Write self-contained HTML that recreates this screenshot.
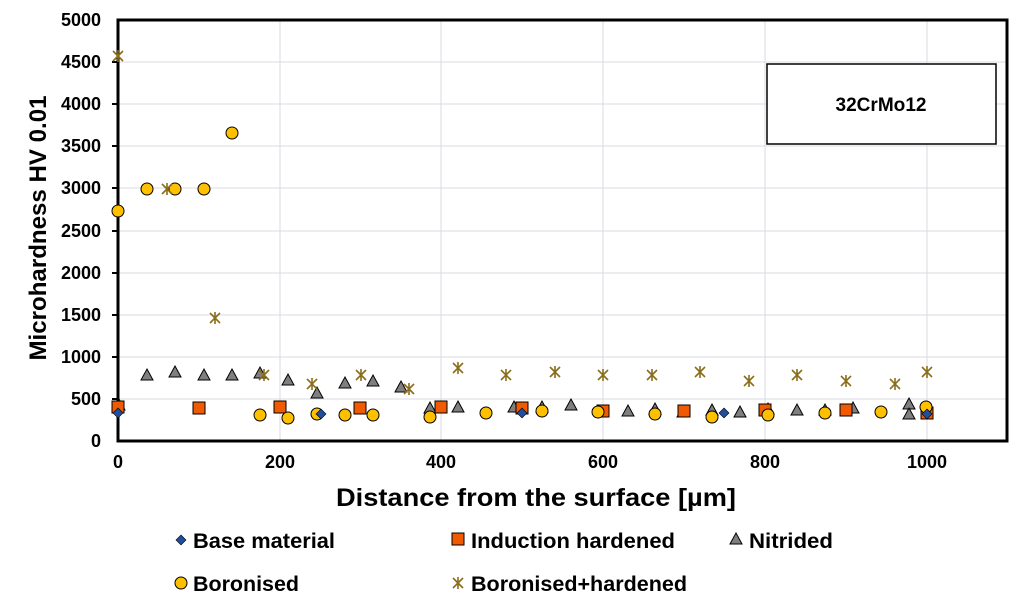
<!DOCTYPE html>
<html><head><meta charset="utf-8"><style>
body{margin:0;background:#fff}
svg{display:block;font-family:"Liberation Sans",sans-serif;font-weight:bold}
</style></head><body>
<svg width="1024" height="614" viewBox="0 0 1024 614" xmlns="http://www.w3.org/2000/svg">
<defs>
<path id="tri" d="M0,-6 L6,5 L-6,5 Z" fill="#7f7f7f" stroke="#000" stroke-width="1"/>
<circle id="cir" r="6" fill="#ffc000" stroke="#000" stroke-width="1"/>
<rect id="sq" x="-6" y="-6" width="12" height="12" fill="#f05a00" stroke="#000" stroke-width="1"/>
<path id="dia" d="M0,-5 L5,0 L0,5 L-5,0 Z" fill="#1f4e9e" stroke="#000" stroke-width="0.6"/>
<path id="ast" d="M-5,-5 L5,5 M-5,5 L5,-5 M0,-6 L0,6" stroke="#8a6d1a" stroke-width="1.6" fill="none"/>
</defs>
<rect x="0" y="0" width="1024" height="614" fill="#fff"/>
<g stroke="#d9d9e3" stroke-width="1">
<line x1="118" y1="20" x2="1007" y2="20"/>
<line x1="118" y1="62" x2="1007" y2="62"/>
<line x1="118" y1="104" x2="1007" y2="104"/>
<line x1="118" y1="146" x2="1007" y2="146"/>
<line x1="118" y1="188" x2="1007" y2="188"/>
<line x1="118" y1="231" x2="1007" y2="231"/>
<line x1="118" y1="273" x2="1007" y2="273"/>
<line x1="118" y1="315" x2="1007" y2="315"/>
<line x1="118" y1="357" x2="1007" y2="357"/>
<line x1="118" y1="399" x2="1007" y2="399"/>
<line x1="280" y1="20" x2="280" y2="441"/>
<line x1="441" y1="20" x2="441" y2="441"/>
<line x1="603" y1="20" x2="603" y2="441"/>
<line x1="765" y1="20" x2="765" y2="441"/>
<line x1="927" y1="20" x2="927" y2="441"/>
</g>
<rect x="118" y="20" width="889" height="421" fill="none" stroke="#000" stroke-width="3"/>
<g stroke="#000" stroke-width="2">
<line x1="112" y1="62" x2="118" y2="62"/><line x1="112" y1="104" x2="118" y2="104"/><line x1="112" y1="146" x2="118" y2="146"/><line x1="112" y1="188" x2="118" y2="188"/><line x1="112" y1="231" x2="118" y2="231"/><line x1="112" y1="273" x2="118" y2="273"/><line x1="112" y1="315" x2="118" y2="315"/><line x1="112" y1="357" x2="118" y2="357"/><line x1="112" y1="399" x2="118" y2="399"/>
</g>
<g font-size="18" text-anchor="end">
<text x="101" y="26">5000</text><text x="101" y="68">4500</text><text x="101" y="110">4000</text><text x="101" y="152">3500</text><text x="101" y="194">3000</text><text x="101" y="237">2500</text><text x="101" y="279">2000</text><text x="101" y="321">1500</text><text x="101" y="363">1000</text><text x="101" y="405">500</text><text x="101" y="447">0</text>
</g>
<g font-size="18" text-anchor="middle">
<text x="118" y="468">0</text><text x="280" y="468">200</text><text x="441" y="468">400</text><text x="603" y="468">600</text><text x="765" y="468">800</text><text x="927" y="468">1000</text>
</g>
<text x="536" y="506" font-size="25" text-anchor="middle" textLength="400" lengthAdjust="spacingAndGlyphs">Distance from the surface [µm]</text>
<text transform="translate(46,228) rotate(-90)" font-size="24" text-anchor="middle" textLength="265" lengthAdjust="spacingAndGlyphs">Microhardness HV 0.01</text>
<rect x="767" y="64" width="229" height="80" fill="#fff" stroke="#000" stroke-width="1.5"/>
<text x="881" y="111" font-size="19" text-anchor="middle" textLength="91" lengthAdjust="spacingAndGlyphs">32CrMo12</text>
<g>
<use href="#tri" x="119" y="405"/><use href="#tri" x="147" y="375"/><use href="#tri" x="175" y="372"/><use href="#tri" x="204" y="375"/><use href="#tri" x="232" y="375"/><use href="#tri" x="260" y="373"/><use href="#tri" x="288" y="380"/><use href="#tri" x="317" y="393"/><use href="#tri" x="345" y="383"/><use href="#tri" x="373" y="381"/><use href="#tri" x="401" y="387"/><use href="#tri" x="430" y="408"/><use href="#tri" x="458" y="407"/><use href="#tri" x="514" y="407"/><use href="#tri" x="542" y="407"/><use href="#tri" x="571" y="405"/><use href="#tri" x="628" y="411"/><use href="#tri" x="655" y="409"/><use href="#tri" x="683" y="412"/><use href="#tri" x="712" y="410"/><use href="#tri" x="740" y="412"/><use href="#tri" x="768" y="409"/><use href="#tri" x="797" y="410"/><use href="#tri" x="853" y="408"/><use href="#tri" x="909" y="404"/><use href="#tri" x="909" y="414"/><use href="#tri" x="825" y="410"/>
</g>
<g>
<use href="#sq" x="118" y="407"/><use href="#sq" x="199" y="408"/><use href="#sq" x="280" y="407"/><use href="#sq" x="360" y="408"/><use href="#sq" x="441" y="407"/><use href="#sq" x="522" y="408"/><use href="#sq" x="603" y="411"/><use href="#sq" x="684" y="411"/><use href="#sq" x="765" y="410"/><use href="#sq" x="846" y="410"/><use href="#sq" x="927" y="413"/>
</g>
<g>
<use href="#cir" x="118" y="211"/><use href="#cir" x="147" y="189"/><use href="#cir" x="175" y="189"/><use href="#cir" x="204" y="189"/><use href="#cir" x="232" y="133"/>
<use href="#cir" x="260" y="415"/><use href="#cir" x="288" y="418"/><use href="#cir" x="317" y="414"/><use href="#cir" x="345" y="415"/><use href="#cir" x="373" y="415"/><use href="#cir" x="430" y="417"/><use href="#cir" x="486" y="413"/><use href="#cir" x="542" y="411"/><use href="#cir" x="598" y="412"/><use href="#cir" x="655" y="414"/><use href="#cir" x="712" y="417"/><use href="#cir" x="768" y="415"/><use href="#cir" x="825" y="413"/><use href="#cir" x="881" y="412"/><use href="#cir" x="926" y="407"/>
</g>
<g>
<use href="#dia" x="118" y="413"/><use href="#dia" x="321" y="414"/><use href="#dia" x="522" y="413"/><use href="#dia" x="724" y="413"/><use href="#dia" x="927" y="414"/>
</g>
<g>
<use href="#ast" x="118" y="56"/><use href="#ast" x="167" y="189"/><use href="#ast" x="215" y="318"/><use href="#ast" x="264" y="375"/><use href="#ast" x="312" y="384"/><use href="#ast" x="361" y="375"/><use href="#ast" x="409" y="389"/><use href="#ast" x="458" y="368"/><use href="#ast" x="506" y="375"/><use href="#ast" x="555" y="372"/><use href="#ast" x="603" y="375"/><use href="#ast" x="652" y="375"/><use href="#ast" x="700" y="372"/><use href="#ast" x="749" y="381"/><use href="#ast" x="797" y="375"/><use href="#ast" x="846" y="381"/><use href="#ast" x="895" y="384"/><use href="#ast" x="927" y="372"/>
</g>
<g font-size="21">
<use href="#dia" x="181" y="540"/><text x="193" y="548" textLength="142" lengthAdjust="spacingAndGlyphs">Base material</text>
<use href="#sq" x="458" y="539"/><text x="471" y="548" textLength="204" lengthAdjust="spacingAndGlyphs">Induction hardened</text>
<use href="#tri" x="736" y="539"/><text x="749" y="548" textLength="84" lengthAdjust="spacingAndGlyphs">Nitrided</text>
<use href="#cir" x="181" y="583"/><text x="193" y="591" textLength="106" lengthAdjust="spacingAndGlyphs">Boronised</text>
<use href="#ast" x="458" y="583"/><text x="471" y="591" textLength="216" lengthAdjust="spacingAndGlyphs">Boronised+hardened</text>
</g>
</svg>
</body></html>
